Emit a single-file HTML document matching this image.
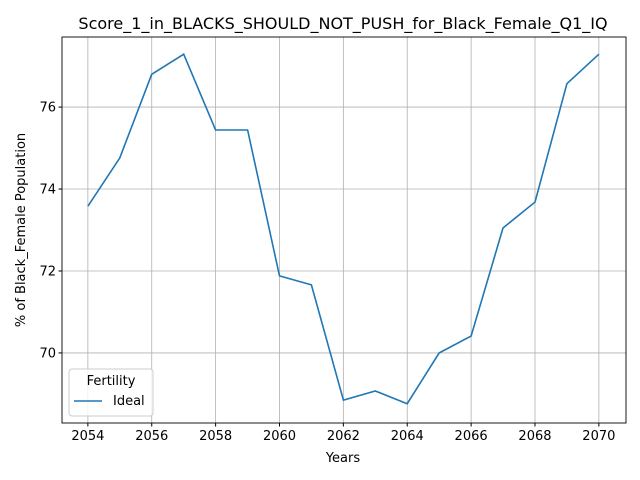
<!DOCTYPE html>
<html><head><meta charset="utf-8">
<style>
body{margin:0;background:#fff;}
svg{display:block;font-family:"DejaVu Sans","Liberation Sans",sans-serif;}
</style></head>
<body>
<svg id="chart" width="640" height="480" viewBox="0 0 640 480">
<rect x="0" y="0" width="640" height="480" fill="#fff"/>
<text x="343" y="29" font-size="16" text-anchor="middle">Score_1_in_BLACKS_SHOULD_NOT_PUSH_for_Black_Female_Q1_IQ</text>
<g id="grid"></g>
<g id="axes"></g>
<path id="series" fill="none" stroke="#1f77b4" stroke-width="1.6"/>
<rect x="62" y="37" width="564" height="386" fill="none" stroke="#000" stroke-width="0.9"/>
<text x="343" y="462" font-size="13" text-anchor="middle">Years</text>
<text transform="translate(25,230) rotate(-90)" font-size="13" text-anchor="middle">% of Black_Female Population</text>
<g>
<rect x="69" y="369" width="84" height="47" rx="3" fill="#fff" fill-opacity="0.8" stroke="#ccc"/>
<text x="111" y="385" font-size="13" text-anchor="middle">Fertility</text>
<line x1="74" y1="401" x2="102" y2="401" stroke="#1f77b4" stroke-width="1.6"/>
<text x="113" y="405" font-size="13">Ideal</text>
</g>
</svg>
<script>
const years=[2054,2055,2056,2057,2058,2059,2060,2061,2062,2063,2064,2065,2066,2067,2068,2069,2070];
const values=[73.58,74.76,76.8,77.29,75.44,75.44,71.88,71.66,68.85,69.07,68.76,70.0,70.41,73.05,73.68,76.57,77.29];
const xTicks=[2054,2056,2058,2060,2062,2064,2066,2068,2070];
const yTicks=[70,72,74,76];
const L=62,R=626,T=37,B=423;
const xMin=2053.19,xMax=2070.85,yMin=68.29,yMax=77.71;
const xs=v=>L+(v-xMin)/(xMax-xMin)*(R-L);
const ys=v=>B-(v-yMin)/(yMax-yMin)*(B-T);
const NS="http://www.w3.org/2000/svg";
const grid=document.getElementById('grid'),axes=document.getElementById('axes');
function mk(tag,attrs,parent){const e=document.createElementNS(NS,tag);for(const k in attrs)e.setAttribute(k,attrs[k]);parent.appendChild(e);return e;}
xTicks.forEach(t=>{const x=xs(t);
 const g=mk('line',{x1:x,x2:x,y1:T,y2:B,stroke:'#b0b0b0','stroke-width':0.8},grid);
 
 
 const tk=mk('line',{x1:x,x2:x,y1:B,y2:B+3.5,stroke:'#000'},axes);
 
 
 const lb=mk('text',{x:x,y:B+17,'font-size':13,'text-anchor':'middle'},axes);lb.textContent=t;
 
 
});
yTicks.forEach(t=>{const y=ys(t);
 const g=mk('line',{x1:L,x2:R,y1:y,y2:y,stroke:'#b0b0b0','stroke-width':0.8},grid);
 
 
 const tk=mk('line',{x1:L-3.5,x2:L,y1:y,y2:y,stroke:'#000'},axes);
 
 
 const lb=mk('text',{x:L-6,y:y+4.5,'font-size':13,'text-anchor':'end'},axes);lb.textContent=t;
 
 
});
document.getElementById('series').setAttribute('d',years.map((yr,i)=>(i?'L':'M')+xs(yr).toFixed(1)+','+ys(values[i]).toFixed(1)).join(' '));
</script>
</body></html>
